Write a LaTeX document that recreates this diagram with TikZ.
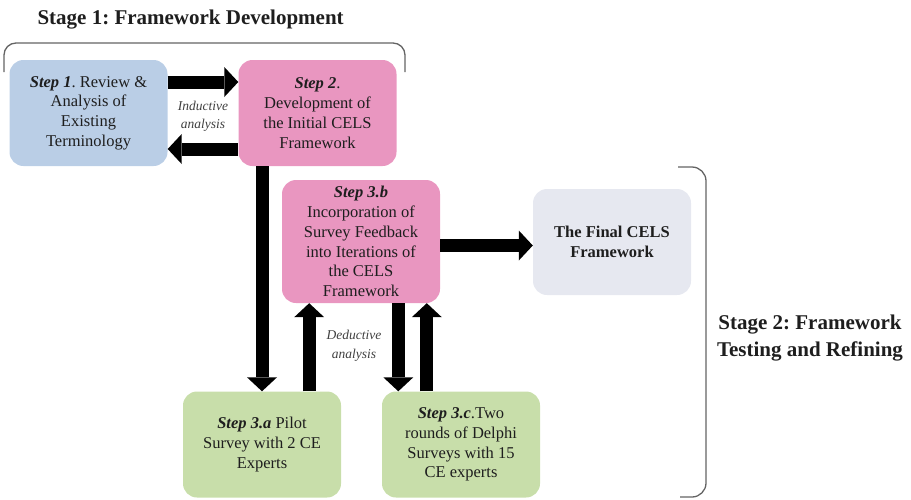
\documentclass[tikz,border=0pt]{standalone}
\usepackage{fontspec}
\setmainfont{Liberation Serif}
\usetikzlibrary{arrows.meta,calc}
\frenchspacing

\definecolor{stepblue}{RGB}{186,206,230}
\definecolor{steppink}{RGB}{233,150,192}
\definecolor{stepgreen}{RGB}{200,222,170}
\definecolor{stepgray}{RGB}{230,232,240}
\definecolor{inktext}{RGB}{30,30,30}
\definecolor{bracegray}{RGB}{100,100,100}

\tikzset{
  stepbox/.style={rounded corners=14pt, inner sep=2pt, align=center,
    text=inktext, font=\fontsize{16.5}{19.8}\selectfont,
    minimum width=158pt},
  bigarrow/.style={line width=13pt,
    -{Triangle[width=30pt,length=14pt,line width=0pt]}},
  note/.style={align=center, text=inktext!85,
    font=\fontsize{13.5}{18.5}\selectfont\itshape},
  stagelabel/.style={align=center, text=inktext,
    font=\fontsize{21}{27}\selectfont\bfseries},
  bracket/.style={draw=bracegray, line width=1.3pt}
}
\newcommand{\stepname}[1]{\textbf{\textit{#1}}}

\begin{document}
\begin{tikzpicture}[x=1pt,y=-1pt]
\useasboundingbox (0,0) rectangle (911,499);

% stage headings
\node[stagelabel, anchor=west] (stage1) at (34,20) {Stage 1: Framework Development};
\node[stagelabel] (stage2) at (810,338) {Stage 2: Framework\\Testing and Refining};

% stage brackets
\draw[bracket, rounded corners=12pt] (4,72) -- (4,43) -- (405,43) -- (405,72);
\draw[bracket, rounded corners=14pt] (678,167) -- (706,167) -- (706,497) -- (680,497);

% steps
\node[stepbox, fill=stepblue, minimum height=106pt] (s1) at (88.5,113)
  {\stepname{Step 1}. Review \&\\Analysis of\\Existing\\Terminology};
\node[stepbox, fill=steppink, minimum height=106pt] (s2) at (317.5,113)
  {\stepname{Step 2}.\\Development of\\the Initial CELS\\Framework};
\node[stepbox, fill=steppink, minimum height=123pt] (s3b) at (361,241.5)
  {\stepname{Step 3.b}\\Incorporation of\\Survey Feedback\\into Iterations of\\the CELS\\Framework};
\node[stepbox, fill=stepgray, minimum height=106pt, font=\fontsize{16.5}{19.8}\selectfont\bfseries] (fin) at (612,242)
  {The Final CELS\\Framework};
\node[stepbox, fill=stepgreen, minimum height=106pt] (s3a) at (262,444.5)
  {\stepname{Step 3.a} Pilot\\Survey with 2 CE\\Experts};
\node[stepbox, fill=stepgreen, minimum height=106pt] (s3c) at (461,444.5)
  {\stepname{Step 3.c}.Two\\rounds of Delphi\\Surveys with 15\\CE experts};

% annotations
\node[note] (ind) at (203,116.5) {Inductive\\analysis};
\node[note] (ded) at (354,346) {Deductive\\analysis};

% flows
\draw[bigarrow] ([yshift=31pt]s1.east) -- ([yshift=31pt]s2.west);
\draw[bigarrow] ([yshift=-36pt]s2.west) -- ([yshift=-36pt]s1.east);
\draw[bigarrow] (s3a.north |- s2.south) -- (s3a.north);
\draw[bigarrow] ([xshift=-32pt]s3a.north east) -- ([xshift=-32pt]s3a.north east |- s3b.south);
\draw[bigarrow] ([xshift=16.5pt]s3c.north west |- s3b.south) -- ([xshift=16.5pt]s3c.north west);
\draw[bigarrow] ([xshift=45pt]s3c.north west) -- ([xshift=45pt]s3c.north west |- s3b.south);
\draw[bigarrow] ([yshift=-4pt]s3b.east) -- ([yshift=-4pt]s3b.east -| fin.west);
\end{tikzpicture}
\end{document}
